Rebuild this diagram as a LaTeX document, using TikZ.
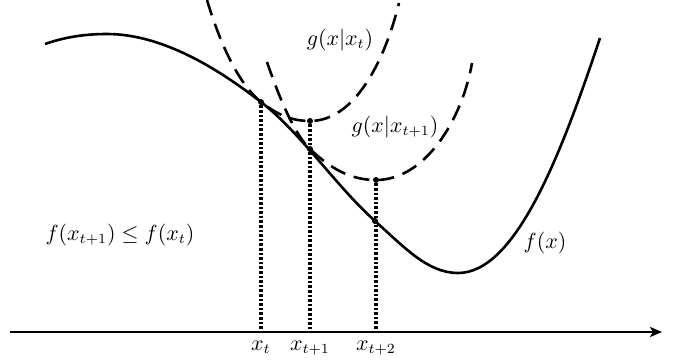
\documentclass[tikz,border=0pt]{standalone}
\usetikzlibrary{arrows.meta, positioning}

\begin{document}
\begin{tikzpicture}[
				x=0.5pt, y=-0.5pt,
				every node/.style={font=\fontsize{10.5}{12.5}\selectfont},
				fcurve/.style={line width=1.3pt},
				gcurve/.style={line width=1.3pt, dash pattern=on 8pt off 4.5pt},
				guide/.style={line width=1.6pt, dash pattern=on 1.3pt off 1pt},
				axis/.style={line width=1.3pt, -{Stealth[length=6pt, width=5pt, inset=1.5pt]}},
				dot/.style={circle, fill, inner sep=0pt, minimum size=3pt},
				ticklabel/.style={text height=1.1ex, text depth=0.7ex}
				]
				\useasboundingbox (0,0) rectangle (673,360);

				% Axis
				\coordinate (axl) at (10,332);
				\coordinate (axr) at (662,332);
				\coordinate (at) at (261,332);
				\coordinate (at1) at (310,332);
				\coordinate (at2) at (376,332);
				\draw [axis] (axl) -- (axr);

				% Curves
				\draw [fcurve] (45,44) .. controls (65,37) and (85,34) .. (107,34)
					.. controls (167,34) and (226,75) .. (261,102)
					.. controls (301,133) and (335,185) .. (375,221)
					.. controls (405,248) and (428,273) .. (458,273)
					.. controls (515,273) and (560,158) .. (600,38);
				\draw [gcurve] (207,0) .. controls (222,50) and (241,86) .. (261,102)
					.. controls (280,117) and (295,121) .. (310,121)
					.. controls (355,121) and (385,60) .. (399,3);
				\draw [gcurve] (267,62) .. controls (280,100) and (295,135) .. (310,149)
					.. controls (330,168) and (350,180) .. (376,180)
					.. controls (425,180) and (462,120) .. (472,63);

				% Points
				\node (ft) [dot] at (261,102) {};
				\node (gmin1) [dot] at (310,121) {};
				\node (ft1) [dot] at (310,149) {};
				\node (gmin2) [dot] at (376,180) {};
				\node (ft2) [dot] at (375,221) {};

				% Guides
				\draw [guide] (ft) -- (at);
				\draw [guide] (gmin1) -- (at1);
				\draw [guide] (gmin2) -- (at2);

				% Labels
				\node (lt) [ticklabel, below=1pt of at] {$x_t$};
				\node (lt1) [ticklabel, below=1pt of at1] {$x_{t+1}$};
				\node (lt2) [ticklabel, below=1pt of at2] {$x_{t+2}$};
				\node (lg1) at (340,40) {$g(x|x_t)$};
				\node (lg2) at (395,127) {$g(x|x_{t+1})$};
				\node (lf) at (545,243) {$f(x)$};
				\node (lineq) at (120,235) {$f(x_{t+1}) \leq f(x_t)$};
			\end{tikzpicture}
\end{document}
